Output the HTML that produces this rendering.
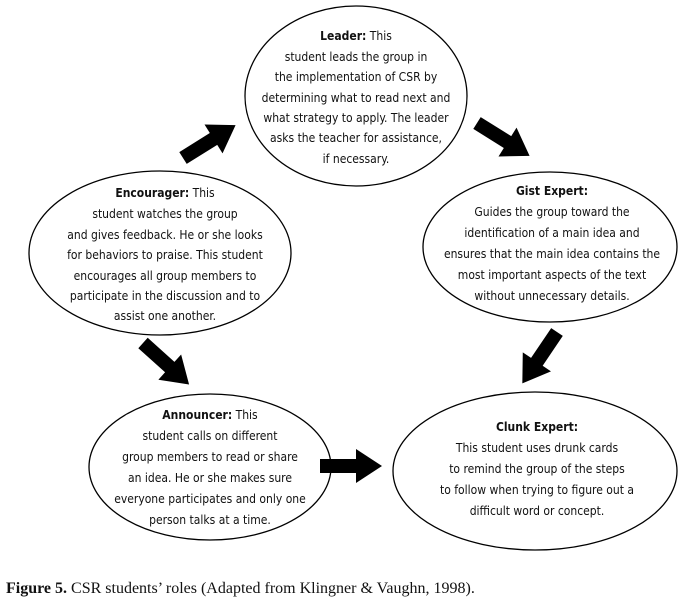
<!DOCTYPE html>
<html><head><meta charset="utf-8"><style>
html,body{margin:0;padding:0;background:#fff;}
svg{display:block;}
.t{font-family:"Liberation Sans Narrow","DejaVu Sans Condensed","Liberation Sans",sans-serif;font-size:12px;fill:#111;text-anchor:middle;}
.b{font-weight:bold;}
.cap{font-family:"Liberation Serif",serif;font-size:16px;fill:#111;}
</style></head><body>
<svg width="685" height="599" viewBox="0 0 685 599" xmlns="http://www.w3.org/2000/svg">
<defs>
<polygon id="ar" points="0,-7 36,-7 36,-17 62,0 36,17 36,7 0,7" fill="#000"/>
</defs>
<g fill="none" stroke="#000" stroke-width="1.3">
<ellipse cx="356" cy="96" rx="111" ry="90"/>
<ellipse cx="160" cy="253" rx="131" ry="82"/>
<ellipse cx="550" cy="247" rx="127" ry="75"/>
<ellipse cx="210" cy="467" rx="121" ry="73"/>
<ellipse cx="535" cy="471" rx="142" ry="79"/>
</g>
<use href="#ar" transform="translate(183,158) rotate(-32)"/>
<use href="#ar" transform="translate(477,123) rotate(32)"/>
<use href="#ar" transform="translate(557,332) rotate(124)"/>
<use href="#ar" transform="translate(143,343) rotate(42)"/>
<use href="#ar" transform="translate(320,466) rotate(0)"/>

<g class="t">
<text x="356" y="40"><tspan class="b">Leader:</tspan> This</text>
<text x="356" y="61">student leads the group in</text>
<text x="356" y="81">the implementation of CSR by</text>
<text x="356" y="102">determining what to read next and</text>
<text x="356" y="122">what strategy to apply. The leader</text>
<text x="356" y="142">asks the teacher for assistance,</text>
<text x="356" y="163">if necessary.</text>

<text x="165" y="197"><tspan class="b">Encourager:</tspan> This</text>
<text x="165" y="218">student watches the group</text>
<text x="165" y="239">and gives feedback. He or she looks</text>
<text x="165" y="259">for behaviors to praise. This student</text>
<text x="165" y="280">encourages all group members to</text>
<text x="165" y="300">participate in the discussion and to</text>
<text x="165" y="320">assist one another.</text>

<text x="552" y="195" class="b">Gist Expert:</text>
<text x="552" y="216">Guides the group toward the</text>
<text x="552" y="237">identification of a main idea and</text>
<text x="552" y="258">ensures that the main idea contains the</text>
<text x="552" y="279">most important aspects of the text</text>
<text x="552" y="300">without unnecessary details.</text>

<text x="210" y="419"><tspan class="b">Announcer:</tspan> This</text>
<text x="210" y="440">student calls on different</text>
<text x="210" y="461">group members to read or share</text>
<text x="210" y="482">an idea. He or she makes sure</text>
<text x="210" y="503">everyone participates and only one</text>
<text x="210" y="524">person talks at a time.</text>

<text x="537" y="431" class="b">Clunk Expert:</text>
<text x="537" y="452">This student uses drunk cards</text>
<text x="537" y="473">to remind the group of the steps</text>
<text x="537" y="494">to follow when trying to figure out a</text>
<text x="537" y="515">difficult word or concept.</text>
</g>
<text x="6" y="593" class="cap"><tspan font-weight="bold">Figure 5.</tspan> CSR students’ roles (Adapted from Klingner &amp; Vaughn, 1998).</text>
</svg>
</body></html>
